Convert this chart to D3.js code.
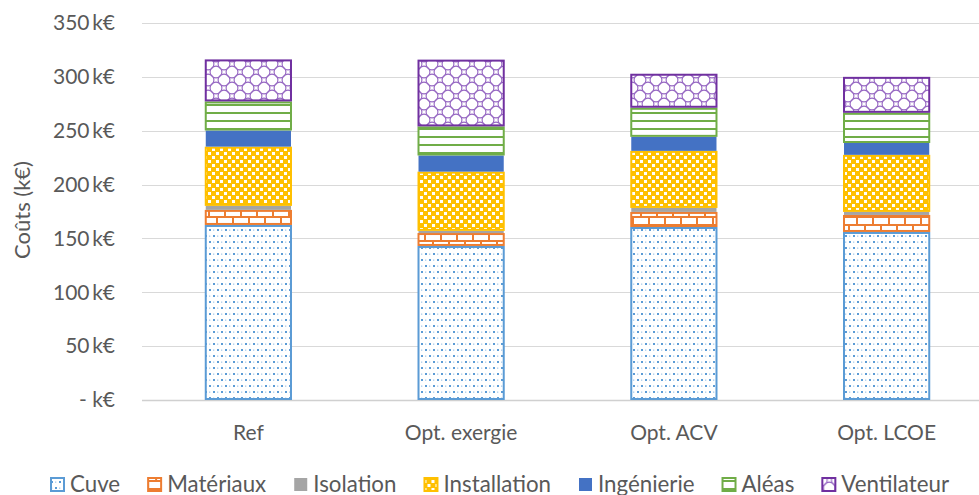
<!DOCTYPE html>
<html><head><meta charset="utf-8">
<script src="https://cdn.jsdelivr.net/npm/d3@7"></script>
<style>
html,body{margin:0;padding:0;background:#fff;}
svg{display:block;}
text{font-family:Lato,"Open Sans",sans-serif;fill:#595959;}
</style></head>
<body>
<svg id="chart" width="979" height="495"></svg>
<script>
const categories = ["Ref", "Opt. exergie", "Opt. ACV", "Opt. LCOE"];
const seriesNames = ["Cuve", "Matériaux", "Isolation", "Installation", "Ingénierie", "Aléas", "Ventilateur"];
const cuve =         [162.5, 143, 160.6, 156];
const materiaux =    [14, 12, 14, 15.8];
const isolation =    [3.7, 2, 3.7, 2.8];
const installation = [55, 55, 53, 53];
const ingenierie =   [15, 15, 13, 11];
const aleas =        [27, 27, 27, 28];
const ventilateur =  [39, 62, 31.6, 33.4];
const yTicks = [0, 50, 100, 150, 200, 250, 300, 350];
const yTitle = "Coûts (k€)";

const seriesValues = [cuve, materiaux, isolation, installation, ingenierie, aleas, ventilateur];
const colors = ["#5b9bd5", "#ed7d31", "#a5a5a5", "#ffc000", "#4472c4", "#70ad47", "#7030a0"];
const patternIds = ["pCuve", "pMat", null, "pInst", null, "pAleas", "pVent"];
const FONT = 21;
const LEGEND_FONT = 22.3;

const svg = d3.select("#chart");
const defs = svg.append("defs");

function pat(id, w, h) {
  return defs.append("pattern").attr("id", id).attr("patternUnits", "userSpaceOnUse")
    .attr("width", w).attr("height", h);
}
{ // Cuve dots
  const p = pat("pCuve", 8, 12);
  p.append("rect").attr("width", 8).attr("height", 12).attr("fill", "#fff");
  p.append("rect").attr("x", 1).attr("y", 1).attr("width", 2).attr("height", 2).attr("fill", "#5b9bd5");
  p.append("rect").attr("x", 5).attr("y", 7).attr("width", 2).attr("height", 2).attr("fill", "#5b9bd5");
  p.append("rect").attr("x", 5).attr("y", 1.5).attr("width", 1.3).attr("height", 1.3).attr("fill", "#a9cbeb");
  p.append("rect").attr("x", 1).attr("y", 7.5).attr("width", 1.3).attr("height", 1.3).attr("fill", "#a9cbeb");
}
{ // Matériaux bricks
  const p = pat("pMat", 16, 16);
  p.append("rect").attr("width", 16).attr("height", 16).attr("fill", "#fff");
  p.append("rect").attr("x", 0).attr("y", 0).attr("width", 16).attr("height", 2).attr("fill", "#ed7d31");
  p.append("rect").attr("x", 0).attr("y", 8).attr("width", 16).attr("height", 2).attr("fill", "#ed7d31");
  p.append("rect").attr("x", 0).attr("y", 0).attr("width", 2).attr("height", 8).attr("fill", "#ed7d31");
  p.append("rect").attr("x", 8).attr("y", 8).attr("width", 2).attr("height", 8).attr("fill", "#ed7d31");
}
{ // Installation checkerboard
  const p = pat("pInst", 8, 8);
  p.append("rect").attr("width", 8).attr("height", 8).attr("fill", "#ffc000");
  p.append("rect").attr("x", 0).attr("y", 0).attr("width", 3).attr("height", 3).attr("fill", "#fff");
  p.append("rect").attr("x", 4).attr("y", 4).attr("width", 3).attr("height", 3).attr("fill", "#fff");
}
{ // Aléas horizontal lines
  const p = pat("pAleas", 8, 8);
  p.append("rect").attr("width", 8).attr("height", 8).attr("fill", "#fff");
  p.append("rect").attr("x", 0).attr("y", 0).attr("width", 8).attr("height", 2).attr("fill", "#70ad47");
}
{ // Ventilateur trellis
  const p = pat("pVent", 16, 16);
  p.append("rect").attr("width", 16).attr("height", 16).attr("fill", "#fff");
  [[0,0],[16,0],[0,16],[16,16],[8,8]].forEach(([cx,cy]) => {
    p.append("circle").attr("cx", cx).attr("cy", cy).attr("r", 5.9)
      .attr("fill", "none").attr("stroke", "#9566c2").attr("stroke-width", 1.1);
  });
}

const x = d3.scaleBand().domain(categories).range([142, 993]).paddingInner(0.59).paddingOuter(0.295);
const y = d3.scaleLinear().domain([0, 350]).range([400, 23]);

// Gridlines
svg.append("g").selectAll("line").data(yTicks).join("line")
  .attr("x1", 142).attr("x2", 979)
  .attr("y1", d => Math.round(y(d)) + 0.5).attr("y2", d => Math.round(y(d)) + 0.5)
  .attr("stroke", d => d === 0 ? "#d0d0d0" : "#d9d9d9").attr("stroke-width", d => d === 0 ? 1.5 : 1);

// Y axis labels
const yAxis = d3.axisLeft(y).tickValues(yTicks).tickSize(0).tickPadding(0)
  .tickFormat(d => d === 0 ? "- k€" : d + "\u2009k€");
const gy = svg.append("g").attr("transform", "translate(115,0)").call(yAxis);
gy.select(".domain").remove();
gy.selectAll("text").attr("font-size", FONT).attr("fill", "#595959")
  .style("font-family", "Lato,'Open Sans',sans-serif");

// X axis labels
const xAxis = d3.axisBottom(x).tickSize(0).tickPadding(0);
const gx = svg.append("g").attr("transform", "translate(0,425)").call(xAxis);
gx.select(".domain").remove();
gx.selectAll("text").attr("font-size", FONT).attr("fill", "#595959")
  .style("font-family", "Lato,'Open Sans',sans-serif");

// Y title
svg.append("text").attr("transform", "translate(30,210) rotate(-90)")
  .attr("text-anchor", "middle")
  .attr("font-size", FONT + 1).text(yTitle);

// Stack
const rows = categories.map((c, i) => {
  const o = {cat: c};
  seriesNames.forEach((s, j) => o[s] = seriesValues[j][i]);
  return o;
});
const stacked = d3.stack().keys(seriesNames)(rows);

stacked.forEach((layer, j) => {
  const fill = patternIds[j] ? `url(#${patternIds[j]})` : colors[j];
  svg.append("g").selectAll("rect").data(layer).join("rect")
    .attr("x", d => x(d.data.cat) + 1)
    .attr("width", x.bandwidth() - 2)
    .attr("y", d => y(d[1]) + (patternIds[j] ? 1 : 0))
    .attr("height", d => y(d[0]) - y(d[1]) - (patternIds[j] ? 2 : 0))
    .attr("fill", fill)
    .attr("stroke", patternIds[j] ? colors[j] : "none")
    .attr("stroke-width", 2);
});

// Legend
const legend = svg.append("g").attr("transform", "translate(50,0)");
let lx = 0;
seriesNames.forEach((s, j) => {
  const g = legend.append("g").attr("transform", `translate(${lx},0)`);
  const fill = patternIds[j] ? `url(#${patternIds[j]})` : colors[j];
  g.append("rect").attr("x", 1).attr("y", 478).attr("width", 13).attr("height", 13)
    .attr("fill", fill).attr("stroke", colors[j]).attr("stroke-width", patternIds[j] ? 2 : 0);
  const t = g.append("text").attr("x", 20).attr("y", 491.5)
    .attr("font-size", LEGEND_FONT).text(s);
  lx += 20 + t.node().getComputedTextLength() + 27;
});
</script>
</body></html>
